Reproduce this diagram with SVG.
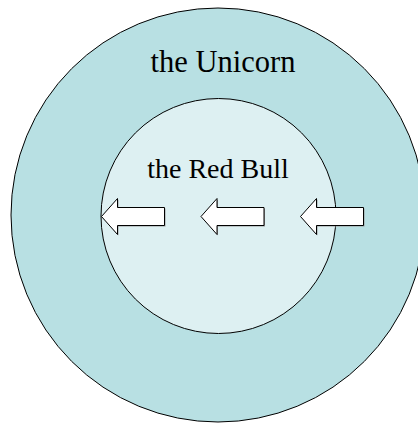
<svg xmlns="http://www.w3.org/2000/svg" width="418" height="423" viewBox="0 0 418 423">
<style>
.lbl{fill:#000;text-anchor:middle}
.ring{stroke:#000;stroke-width:1}
.arrow{fill:#fff;stroke:#000;stroke-width:1}
.shadow{fill:#999}
</style>
<defs>
<path id="arr" d="M0,0 L16,-18 L16,-9 L63,-9 L63,9 L16,9 L16,18 Z"/>
</defs>
<rect width="418" height="423" fill="#fff"/>
<g id="unicorn">
<circle class="ring" cx="218" cy="215" r="207" fill="#B8E0E3"/>
<text class="lbl" x="223" y="71.5" font-family="'Liberation Serif', 'DejaVu Serif', serif" font-size="30.5">the Unicorn</text>
</g>
<g id="redbull">
<circle class="ring" cx="218.5" cy="216" r="117.5" fill="#DDF0F2"/>
<text class="lbl" x="218" y="177.5" font-family="'Liberation Serif', 'DejaVu Serif', serif" font-size="28">the Red Bull</text>
</g>
<g id="connectors">
<use href="#arr" class="shadow" x="102.5" y="217.5"/>
<use href="#arr" class="arrow" x="101.5" y="216.5"/>
<use href="#arr" class="shadow" x="202" y="217.5"/>
<use href="#arr" class="arrow" x="201" y="216.5"/>
<use href="#arr" class="shadow" x="301.5" y="217.5"/>
<use href="#arr" class="arrow" x="300.5" y="216.5"/>
</g>
</svg>
